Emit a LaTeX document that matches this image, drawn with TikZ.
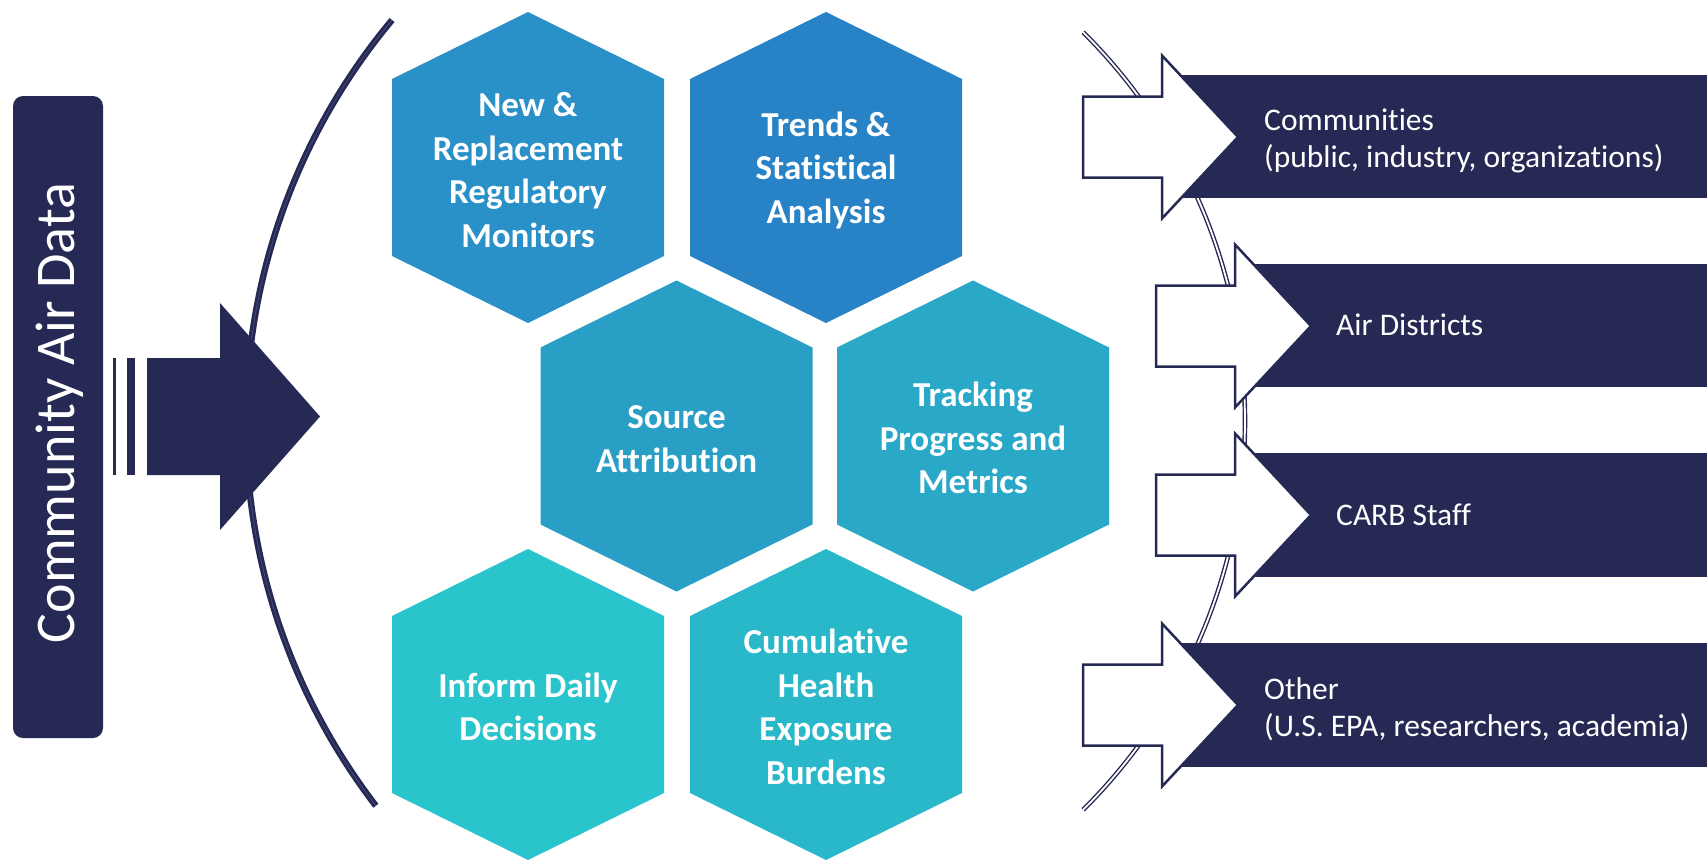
\documentclass[tikz,border=0pt]{standalone}
\usepackage{fontspec}
\setmainfont{Carlito}[Ligatures=NoCommon]
\definecolor{navy}{RGB}{38,41,84}
\definecolor{navylight}{RGB}{70,72,118}
\definecolor{hexA}{RGB}{41,145,199}
\definecolor{hexB}{RGB}{40,131,198}
\definecolor{hexC}{RGB}{41,159,198}
\definecolor{hexD}{RGB}{41,168,200}
\definecolor{hexE}{RGB}{41,196,204}
\definecolor{hexF}{RGB}{41,183,202}
\newcommand{\hexat}[3]{\fill[#3] (#1,#2) ++(0,-155.5) -- ++(136,67) -- ++(0,177) -- ++(-136,67) -- ++(-136,-67) -- ++(0,-177) -- cycle;}
\newcommand{\whitearrow}[2]{\draw[arrowbox] (#1,#2) ++(0,-40.5) -- ++(79,0) -- ++(0,-41) -- ++(76,81.5) -- ++(-76,81.5) -- ++(0,-41) -- ++(-79,0) -- cycle;}
\tikzset{
  hextext/.style={text=white, font=\bfseries\fontsize{35}{43.5}\selectfont, align=center, inner sep=0pt},
  rtext/.style={text=white, font=\fontsize{31.5}{36.5}\selectfont, align=left, inner sep=0pt, anchor=west},
  arrowbox/.style={draw=navy, fill=white, line width=2.5pt, line join=miter},
  arcL/.style={draw=navy, double=navylight, double distance=0.8pt, line width=2.8pt},
  arcR/.style={draw=navy, double=white, double distance=1.8pt, line width=1.4pt},
}
\begin{document}
\begin{tikzpicture}[x=1pt,y=-1pt]
\useasboundingbox (0,0) rectangle (1707,859);
\fill[white] (0,0) rectangle (1707,859);
\clip (0,0) rectangle (1707,859);

% left bracket arc
\draw[arcL] (874.7,423) ++(219.86:628.8) arc[start angle=219.86, end angle=142.5, radius=628.8];

% left vertical bar with title
\node[fill=navy, rounded corners=10pt, minimum width=90pt, minimum height=642pt, inner sep=0pt] (cadbar) at (58,417) {};
\node[rotate=90, text=white, font=\fontsize{56}{60}\selectfont, inner sep=0pt] (cadtext) at (60,413) {Community Air Data};

% left big arrow
\fill[navy] (113,358) rectangle (116,475);
\fill[navy] (127,358) rectangle (135,475);
\fill[navy] (147,358) -- (220,358) -- (220,303) -- (320,416.5) -- (220,530) -- (220,475) -- (147,475) -- cycle;

% hexagons
\hexat{528}{167.5}{hexA}
\hexat{826}{167.5}{hexB}
\hexat{676.5}{436}{hexC}
\hexat{973}{436}{hexD}
\hexat{528}{704.5}{hexE}
\hexat{826}{704.5}{hexF}

\node[hextext] (h1) at (528,170) {New \&\\Replacement\\Regulatory\\Monitors};
\node[hextext] (h2) at (826,170) {Trends \&\\Statistical\\Analysis};
\node[hextext] (h3) at (676.5,439) {Source\\Attribution};
\node[hextext] (h4) at (973,438) {Tracking\\Progress and\\Metrics};
\node[hextext] (h5) at (528,707) {Inform Daily\\Decisions};
\node[hextext] (h6) at (826,707) {Cumulative\\Health\\Exposure\\Burdens};

% right bracket arc
\draw[arcR] (697,421) ++(-45.2:548) arc[start angle=-45.2, end angle=45.2, radius=548];

% right bars
\fill[navy] (1172,75) rectangle (1707,198);
\fill[navy] (1245,264) rectangle (1707,387);
\fill[navy] (1245,453) rectangle (1707,577);
\fill[navy] (1172,643) rectangle (1707,767);

% white arrows
\whitearrow{1083}{137}
\whitearrow{1156}{326}
\whitearrow{1156}{515}
\whitearrow{1083}{705}

% right texts
\node[rtext] (r1) at (1264,141) {Communities\\(public, industry, organizations)};
\node[rtext] (r2) at (1336,325) {Air Districts};
\node[rtext] (r3) at (1336,515) {CARB Staff};
\node[rtext] (r4) at (1264,709) {Other\\(U.S. EPA, researchers, academia)};
\end{tikzpicture}
\end{document}
